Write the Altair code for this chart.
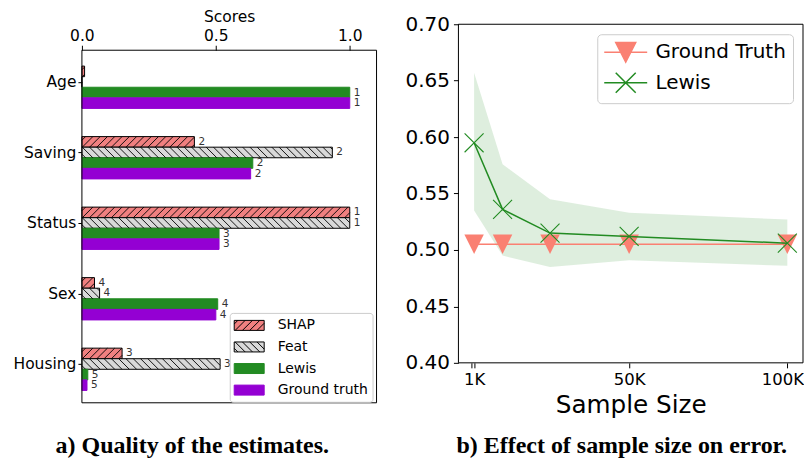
import json
import numpy as np
import pandas as pd
import altair as alt

# ---------------- data: panel a ----------------
features = ["Age", "Saving", "Status", "Sex", "Housing"]
methods = ["SHAP", "Feat", "Lewis", "Ground truth"]
shap_scores = [0.01, 0.42, 1.0, 0.047, 0.15]
feat_scores = [0.0, 0.935, 1.0, 0.066, 0.516]
lewis_scores = [1.0, 0.638, 0.512, 0.507, 0.022]
truth_scores = [1.0, 0.63, 0.512, 0.50, 0.019]
shap_ranks = [None, 2, 1, 4, 3]
feat_ranks = [None, 2, 1, 4, 3]
lewis_ranks = [1, 2, 3, 4, 5]
truth_ranks = [1, 2, 3, 4, 5]
score_ticks = [0.0, 0.5, 1.0]

# ---------------- data: panel b ----------------
series_b = ["Ground Truth", "Lewis"]
sample_sizes_k = [1, 10, 25, 50, 100]
size_ticks_k = [0, 1, 50, 100]
truth_error = [0.505, 0.505, 0.505, 0.505, 0.505]
lewis_error = [0.595, 0.536, 0.515, 0.512, 0.506]
lewis_upper = [0.657, 0.576, 0.545, 0.533, 0.527]
lewis_lower = [0.535, 0.495, 0.485, 0.491, 0.486]
error_ticks = [0.40, 0.45, 0.50, 0.55, 0.60, 0.65, 0.70]

FONT = "DejaVu Sans"
fill_colors = ["#F08080", "#D9D9D9", "#228B22", "#9400D3"]
stroke_colors = ["#000000", "#000000", "#228B22", "#9400D3"]
SALMON = "#FA8072"
GREEN = "#228B22"

# ---------------- panel a layout ----------------
W_A, H_A = 295, 379
FRAME_TOP = 26
FRAME_H = H_A - FRAME_TOP
X_MAX = 1.1
BAR = 0.15
UNIT = FRAME_H / 5.0
HATCH_PX = 7.3
y_dom = [-0.45 - FRAME_TOP / UNIT, 4.55]

score_table = {"SHAP": shap_scores, "Feat": feat_scores, "Lewis": lewis_scores, "Ground truth": truth_scores}
rank_table = {"SHAP": shap_ranks, "Feat": feat_ranks, "Lewis": lewis_ranks, "Ground truth": truth_ranks}

rows = []
for i, f in enumerate(features):
    for j, m in enumerate(methods):
        pos = i + (j - 1) * BAR
        r = rank_table[m][i]
        rows.append(dict(feature=f, method=m, value=score_table[m][i], start=0.0, pos=pos,
                         y0=pos - BAR / 2, y1=pos + BAR / 2, rank="" if r is None else str(r)))
bars = pd.DataFrame(rows)

# hatch strokes derived from the bars ("/" for SHAP, "\" for Feat)
px_x = W_A / X_MAX
dx = BAR * UNIT / px_x
sp = HATCH_PX / px_x
hatch_dir = {"SHAP": 1, "Feat": -1}
seg = []
for row in bars.itertuples():
    if row.method not in hatch_dir or row.value <= 0:
        continue
    d = hatch_dir[row.method]
    ya, yb = (row.y1, row.y0) if d == 1 else (row.y0, row.y1)
    for x0 in np.arange(-dx + sp * 0.5, row.value, sp):
        t0 = max(0.0, -x0 / dx)
        t1 = min(1.0, (row.value - x0) / dx)
        if t1 - t0 < 1e-6:
            continue
        seg.append(dict(x=x0 + t0 * dx, x2=x0 + t1 * dx, y=ya + t0 * (yb - ya), y2=ya + t1 * (yb - ya)))
segdf = pd.DataFrame(seg)

# legend swatch paths
HW, HH = 1.875, 0.625
STEP = HATCH_PX / 8.0


def rect_path(hw, hh):
    return f"M{-hw},{-hh}L{hw},{-hh}L{hw},{hh}L{-hw},{hh}Z"


def hatch_path(direction):
    parts = [rect_path(HW, HH)]
    c = -(HW + HH) + STEP * 0.5
    while c < HW + HH:
        xa, xb = max(-HW, c - HH), min(HW, c + HH)
        if xb - xa > 1e-6:
            if direction == 1:
                parts.append(f"M{xa:.3f},{c - xa:.3f}L{xb:.3f},{c - xb:.3f}")
            else:
                parts.append(f"M{xa:.3f},{xa - c:.3f}L{xb:.3f},{xb - c:.3f}")
        c += STEP
    return "".join(parts)


legend_paths_a = [hatch_path(1), hatch_path(-1), rect_path(HW, HH), rect_path(HW, HH)]

xs_a = alt.Scale(domain=[0, X_MAX], nice=False, zero=False)
ys_a = alt.Scale(domain=y_dom, reverse=True, nice=False, zero=False)

x_axis_a = alt.Axis(orient="top", values=score_ticks, format=".1f", title="Scores", offset=-FRAME_TOP,
                    domain=False, grid=False, tickSize=5, tickColor="black", labelFontSize=15.5,
                    titleFontSize=15.5, titleFontWeight="normal", labelPadding=2, titlePadding=4,
                    labelColor="black", titleColor="black", labelFlush=False, labelFont=FONT, titleFont=FONT)
y_axis_a = alt.Axis(values=list(range(len(features))), labelExpr=f"{json.dumps(features)}[datum.value]",
                    title=None, domain=False, grid=False, tickSize=4, labelPadding=2, labelFontSize=15.5,
                    labelColor="black", tickColor="black", labelFont=FONT)

leg_a = alt.Legend(title=None, orient="none", legendX=148, legendY=289, padding=4, symbolSize=256,
                   symbolOffset=7, labelOffset=20, rowPadding=5.6, labelFontSize=14, labelFont=FONT,
                   labelColor="black", fillColor="white", strokeColor="#cccccc", cornerRadius=3,
                   symbolStrokeWidth=1, symbolOpacity=1, labelLimit=300)

fill_a = alt.Fill("method:N", scale=alt.Scale(domain=methods, range=fill_colors), legend=leg_a)
stroke_a = alt.Stroke("method:N", scale=alt.Scale(domain=methods, range=stroke_colors), legend=leg_a)

bars_mark = alt.Chart(bars).mark_rect(strokeWidth=1, opacity=1).encode(
    x=alt.X("start:Q", scale=xs_a, axis=x_axis_a),
    x2="value:Q",
    y=alt.Y("y0:Q", scale=ys_a, axis=y_axis_a),
    y2="y1:Q",
    fill=fill_a,
    stroke=stroke_a,
)

hatch = alt.Chart(segdf).mark_rule(color="black", strokeWidth=0.9).encode(
    x=alt.X("x:Q", scale=xs_a, axis=x_axis_a), x2="x2:Q",
    y=alt.Y("y:Q", scale=ys_a, axis=y_axis_a), y2="y2:Q",
)

labels = alt.Chart(bars[bars["rank"] != ""]).mark_text(
    align="left", baseline="middle", dx=4, fontSize=10.5, color="#333333", font=FONT
).encode(
    x=alt.X("value:Q", scale=xs_a, axis=x_axis_a),
    y=alt.Y("pos:Q", scale=ys_a, axis=y_axis_a),
    text="rank:N",
)

legend_pts_a = alt.Chart(bars).mark_point(size=0, filled=True, opacity=1).encode(
    x=alt.X("start:Q", scale=xs_a, axis=x_axis_a),
    y=alt.Y("pos:Q", scale=ys_a, axis=y_axis_a),
    shape=alt.Shape("method:N", scale=alt.Scale(domain=methods, range=legend_paths_a), legend=leg_a),
    fill=fill_a,
    stroke=stroke_a,
)

frame_a = alt.Chart(alt.Data(values=[{}])).mark_rect(fillOpacity=0, stroke="black", strokeWidth=1).encode(
    x=alt.value(0), x2=alt.value(W_A), y=alt.value(FRAME_TOP), y2=alt.value(H_A)
)

left = alt.layer(bars_mark, hatch, labels, legend_pts_a, frame_a).properties(
    width=W_A, height=H_A,
    title=alt.TitleParams("a) Quality of the estimates.", orient="bottom", font="Liberation Serif",
                          fontSize=24, fontWeight="bold", color="black", anchor="middle", frame="group",
                          dx=-37, offset=31),
)

# ---------------- panel b ----------------
W_B, H_B = 345, 339
xs_b = alt.Scale(domain=[-3.95, 104.95], nice=False, zero=False)
ys_b = alt.Scale(domain=[0.4, 0.7], nice=False, zero=False)

x_axis_b = alt.Axis(values=size_ticks_k, labelExpr="datum.value == 0 ? '' : datum.value + 'K'",
                    labelOffset={"condition": {"test": "datum.value == 100", "value": -5}, "value": 0},
                    title="Sample Size", titleFontSize=24.7, titleFontWeight="normal", labelFontSize=16.5,
                    tickSize=5, labelPadding=4, titlePadding=4, domain=False, grid=False, tickColor="black",
                    labelColor="black", titleColor="black", labelFlush=False, labelFont=FONT, titleFont=FONT)
y_axis_b = alt.Axis(values=error_ticks, format=".2f", title=None, labelFontSize=20, tickSize=5,
                    labelPadding=4, domain=False, grid=False, tickColor="black", labelColor="black",
                    labelFlush=False, labelFont=FONT)

dfb = pd.DataFrame(dict(size=sample_sizes_k, truth=truth_error, lewis=lewis_error,
                        upper=lewis_upper, lower=lewis_lower))

TRI = "M-1,-1L1,-1L0,1Z"
XMARK = "M-1,-1L1,1M-1,1L1,-1"
LW = 2.15
legend_paths_b = [f"M{-LW},0L{LW},0M-1,-0.98L1,-0.98L0,0.98Z", f"M{-LW},0L{LW},0M-1,-1L1,1M-1,1L1,-1"]


def xb(field="size"):
    return alt.X(f"{field}:Q", scale=xs_b, axis=x_axis_b)


def yb(field):
    return alt.Y(f"{field}:Q", scale=ys_b, axis=y_axis_b)


band = alt.Chart(dfb).mark_area(fill=GREEN, fillOpacity=0.15).encode(x=xb(), y=yb("lower"), y2="upper:Q")
gt_line = alt.Chart(dfb).mark_line(color=SALMON, strokeWidth=1.5).encode(x=xb(), y=yb("truth"))
gt_pts = alt.Chart(dfb).mark_point(shape=TRI, size=380, filled=True, color=SALMON, opacity=1).encode(
    x=xb(), y=yb("truth"))
lw_line = alt.Chart(dfb).mark_line(color=GREEN, strokeWidth=1.5).encode(x=xb(), y=yb("lewis"))
lw_pts = alt.Chart(dfb).mark_point(shape=XMARK, size=361, filled=False, color=GREEN, strokeWidth=1.1,
                                   opacity=1).encode(x=xb(), y=yb("lewis"))

leg_b = alt.Legend(title=None, orient="top-right", offset=10, padding=7, symbolSize=400, symbolOffset=10.5,
                   labelOffset=18.7, rowPadding=4.6, labelFontSize=20, labelFont=FONT, labelColor="black",
                   fillColor="white", strokeColor="#cccccc", cornerRadius=4, symbolStrokeWidth=1.5,
                   symbolOpacity=1, labelLimit=300)
dfl = pd.DataFrame(dict(series=series_b, size=[sample_sizes_k[0]] * 2, err=[truth_error[0], lewis_error[0]]))
legend_pts_b = alt.Chart(dfl).mark_point(size=0, filled=True, opacity=1).encode(
    x=xb(), y=yb("err"),
    shape=alt.Shape("series:N", scale=alt.Scale(domain=series_b, range=legend_paths_b), legend=leg_b),
    fill=alt.Fill("series:N", scale=alt.Scale(domain=series_b, range=[SALMON, "transparent"]), legend=leg_b),
    stroke=alt.Stroke("series:N", scale=alt.Scale(domain=series_b, range=[SALMON, GREEN]), legend=leg_b),
)

frame_b = alt.Chart(alt.Data(values=[{}])).mark_rect(fillOpacity=0, stroke="black", strokeWidth=1).encode(
    x=alt.value(0), x2=alt.value(W_B), y=alt.value(0), y2=alt.value(H_B)
)

right = alt.layer(band, gt_line, gt_pts, lw_line, lw_pts, legend_pts_b, frame_b).properties(
    width=W_B, height=H_B,
    title=alt.TitleParams("b) Effect of sample size on error.", orient="bottom", font="Liberation Serif",
                          fontSize=24, fontWeight="bold", color="black", anchor="middle", frame="group",
                          dx=-9, offset=17),
)

chart = alt.hconcat(left, right, spacing=27).resolve_scale(
    fill="independent", stroke="independent", shape="independent"
).resolve_legend(
    fill="independent", stroke="independent", shape="independent"
).properties(
    padding={"left": 4, "top": 1, "right": 0, "bottom": 0}
).configure(font=FONT).configure_view(stroke=None)

chart.save("out.html", embed_options={"renderer": "svg", "actions": False})
